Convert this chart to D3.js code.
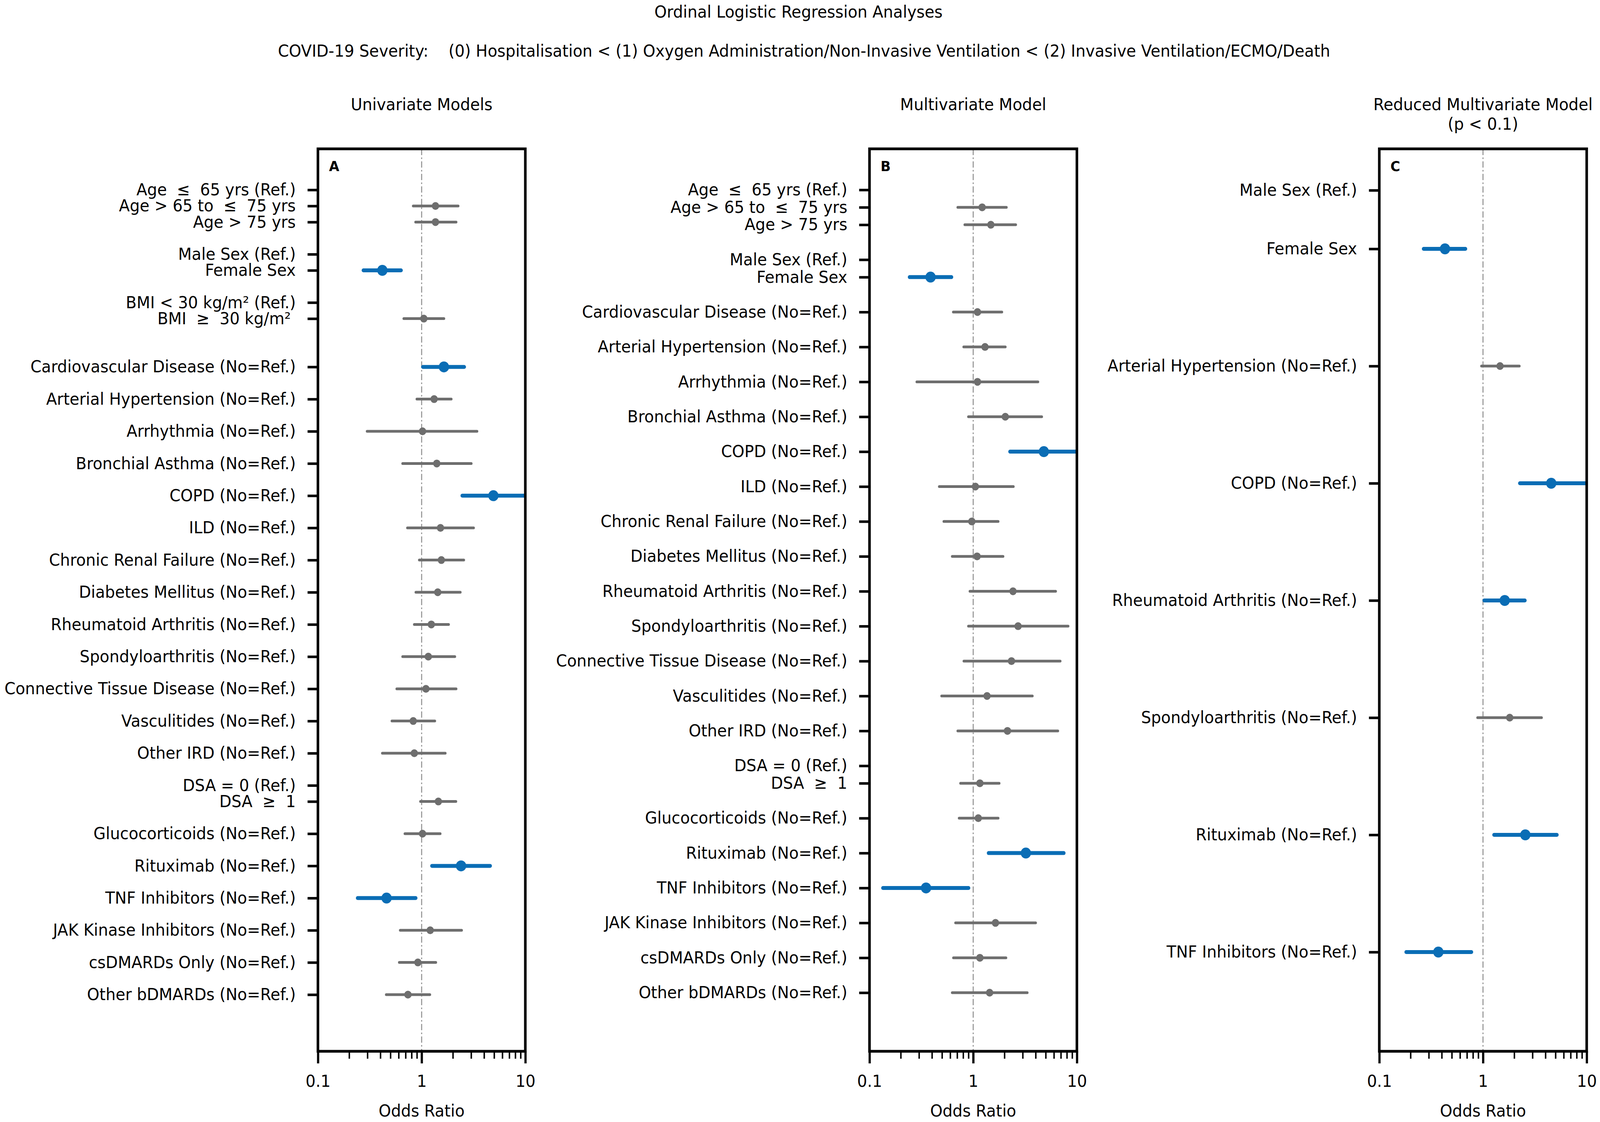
<!DOCTYPE html>
<html><head><meta charset="utf-8">
<script src="https://cdn.jsdelivr.net/npm/d3@7"></script>
<style>
html,body{margin:0;padding:0;background:#fff;overflow:hidden}
#chart{display:block;width:100vw;height:100vh}
svg text{font-family:"DejaVu Sans",sans-serif;fill:#000;white-space:pre}
</style>
</head><body>
<svg id="chart" viewBox="0 0 4328 2872" preserveAspectRatio="none" xml:space="preserve"></svg>
<script>
// ---------- Data ----------
const mainTitle = "Ordinal Logistic Regression Analyses";
const subTitle = "COVID-19 Severity:    (0) Hospitalisation < (1) Oxygen Administration/Non-Invasive Ventilation < (2) Invasive Ventilation/ECMO/Death";
const xAxisLabel = "Odds Ratio";
const xTicks = [0.1, 1, 10];
const xTickLabels = ["0.1", "1", "10"];
const xMinorTicks = [0.2,0.3,0.4,0.5,0.6,0.7,0.8,0.9,2,3,4,5,6,7,8,9];

// Panel A: Univariate models
const labelsA = ["Age  ≤  65 yrs (Ref.)","Age > 65 to  ≤  75 yrs","Age > 75 yrs","Male Sex (Ref.)","Female Sex","BMI < 30 kg/m² (Ref.)","BMI  ≥  30 kg/m² ",
  "Cardiovascular Disease (No=Ref.)","Arterial Hypertension (No=Ref.)","Arrhythmia (No=Ref.)","Bronchial Asthma (No=Ref.)","COPD (No=Ref.)","ILD (No=Ref.)",
  "Chronic Renal Failure (No=Ref.)","Diabetes Mellitus (No=Ref.)","Rheumatoid Arthritis (No=Ref.)","Spondyloarthritis (No=Ref.)","Connective Tissue Disease (No=Ref.)",
  "Vasculitides (No=Ref.)","Other IRD (No=Ref.)","DSA = 0 (Ref.)","DSA  ≥  1","Glucocorticoids (No=Ref.)","Rituximab (No=Ref.)","TNF Inhibitors (No=Ref.)",
  "JAK Kinase Inhibitors (No=Ref.)","csDMARDs Only (No=Ref.)","Other bDMARDs (No=Ref.)"];
const rowsA = [0,1,2,4,5,7,8,11,13,15,17,19,21,23,25,27,29,31,33,35,37,38,40,42,44,46,48,50];
const orA = [null,1.36,1.36,null,0.418,null,1.05,1.64,1.32,1.02,1.40,4.92,1.52,1.55,1.43,1.24,1.16,1.10,0.83,0.85,null,1.45,1.02,2.40,0.459,1.21,0.92,0.738];
const loA = [null,0.83,0.875,null,0.275,null,0.673,1.03,0.90,0.298,0.656,2.47,0.73,0.95,0.88,0.85,0.656,0.576,0.517,0.418,null,0.975,0.69,1.26,0.242,0.622,0.609,0.456];
const hiA = [null,2.25,2.15,null,0.632,null,1.64,2.57,1.93,3.42,3.01,12.0,3.17,2.55,2.36,1.82,2.09,2.15,1.34,1.69,null,2.14,1.51,4.57,0.875,2.43,1.37,1.20];
const sigA = [0,0,0,0,1,0,0,1,0,0,0,1,0,0,0,0,0,0,0,0,0,0,0,1,1,0,0,0];

// Panel B: Multivariate model
const labelsB = ["Age  ≤  65 yrs (Ref.)","Age > 65 to  ≤  75 yrs","Age > 75 yrs","Male Sex (Ref.)","Female Sex",
  "Cardiovascular Disease (No=Ref.)","Arterial Hypertension (No=Ref.)","Arrhythmia (No=Ref.)","Bronchial Asthma (No=Ref.)","COPD (No=Ref.)","ILD (No=Ref.)",
  "Chronic Renal Failure (No=Ref.)","Diabetes Mellitus (No=Ref.)","Rheumatoid Arthritis (No=Ref.)","Spondyloarthritis (No=Ref.)","Connective Tissue Disease (No=Ref.)",
  "Vasculitides (No=Ref.)","Other IRD (No=Ref.)","DSA = 0 (Ref.)","DSA  ≥  1","Glucocorticoids (No=Ref.)","Rituximab (No=Ref.)","TNF Inhibitors (No=Ref.)",
  "JAK Kinase Inhibitors (No=Ref.)","csDMARDs Only (No=Ref.)","Other bDMARDs (No=Ref.)"];
const rowsB = [0,1,2,4,5,7,9,11,13,15,17,19,21,23,25,27,29,31,33,34,36,38,40,42,44,46];
const orB = [null,1.22,1.48,null,0.388,1.10,1.30,1.10,2.04,4.80,1.05,0.97,1.09,2.42,2.71,2.34,1.36,2.14,null,1.16,1.12,3.22,0.351,1.64,1.16,1.44];
const loB = [null,0.71,0.83,null,0.244,0.643,0.81,0.286,0.90,2.27,0.471,0.521,0.628,0.93,0.90,0.813,0.496,0.71,null,0.755,0.732,1.41,0.135,0.676,0.645,0.628];
const hiB = [null,2.09,2.57,null,0.616,1.89,2.04,4.21,4.58,12.0,2.44,1.74,1.94,6.24,8.23,6.90,3.72,6.55,null,1.78,1.74,7.46,0.90,4.00,2.07,3.32];
const sigB = [0,0,0,0,1,0,0,0,0,1,0,0,0,0,0,0,0,0,0,0,0,1,1,0,0,0];

// Panel C: Reduced multivariate model (p < 0.1)
const labelsC = ["Male Sex (Ref.)","Female Sex","Arterial Hypertension (No=Ref.)","COPD (No=Ref.)","Rheumatoid Arthritis (No=Ref.)","Spondyloarthritis (No=Ref.)","Rituximab (No=Ref.)","TNF Inhibitors (No=Ref.)"];
const rowsC = [0,1,3,5,7,9,11,13];
const orC = [null,0.43,1.46,4.55,1.62,1.81,2.56,0.371];
const loC = [null,0.268,0.967,2.27,1.03,0.887,1.28,0.182];
const hiC = [null,0.676,2.24,9.7,2.53,3.67,5.15,0.772];
const sigC = [0,1,0,1,1,0,1,1];

const panelTitles = [["Univariate Models"],["Multivariate Model"],["Reduced Multivariate Model","(p < 0.1)"]];
const panelLetters = ["A","B","C"];

// ---------- Layout ----------
const W = 4328, H = 2872;
const FS = 42.6;
const blue = "#0a6db5", gray = "#6e6e6e";
const boxTop = 381, boxBottom = 2691, boxW = 561;
const panels = [
  {left: 860,  labels: labelsA, rows: rowsA, or: orA, lo: loA, hi: hiA, sig: sigA, yFirst: 486, yLast: 2546},
  {left: 2352, labels: labelsB, rows: rowsB, or: orB, lo: loB, hi: hiB, sig: sigB, yFirst: 486, yLast: 2541},
  {left: 3731, labels: labelsC, rows: rowsC, or: orC, lo: loC, hi: hiC, sig: sigC, yFirst: 487, yLast: 2437}
];

const svg = d3.select("#chart");
svg.append("rect").attr("width", W).attr("height", H).attr("fill", "#fff");

svg.append("text").attr("x", 2160).attr("y", 45).attr("text-anchor", "middle")
  .attr("font-size", FS).text(mainTitle);
svg.append("text").attr("x", 2175).attr("y", 145).attr("text-anchor", "middle")
  .attr("font-size", FS).text(subTitle);

panels.forEach((p, pi) => {
  const g = svg.append("g");
  const x = d3.scaleLog().domain([0.1, 10]).range([p.left, p.left + boxW]);
  const y = d3.scaleLinear().domain([0, d3.max(p.rows)]).range([p.yFirst, p.yLast]);
  const cx = p.left + boxW / 2;

  // panel title
  panelTitles[pi].forEach((t, k) => {
    g.append("text").attr("x", cx).attr("y", 282 + k * 50).attr("text-anchor", "middle")
      .attr("font-size", FS).text(t);
  });

  // clip
  const clipId = "clip" + pi;
  svg.append("clipPath").attr("id", clipId).append("rect")
    .attr("x", p.left).attr("y", boxTop).attr("width", boxW).attr("height", boxBottom - boxTop);

  // reference line at OR = 1
  g.append("line").attr("x1", x(1)).attr("x2", x(1)).attr("y1", boxTop).attr("y2", boxBottom)
    .attr("stroke", "#9a9a9a").attr("stroke-width", 3).attr("stroke-dasharray", "16,6,4,6");

  // data
  const data = p.labels.map((l, i) => ({row: p.rows[i], or: p.or[i], lo: p.lo[i], hi: p.hi[i], sig: p.sig[i]}))
    .filter(d => d.or !== null);
  const dg = g.append("g").attr("clip-path", `url(#${clipId})`);
  dg.selectAll("line.ci").data(data).join("line").attr("class", "ci")
    .attr("x1", d => x(d.lo)).attr("x2", d => x(d.hi))
    .attr("y1", d => y(d.row)).attr("y2", d => y(d.row))
    .attr("stroke", d => d.sig ? blue : gray)
    .attr("stroke-width", d => d.sig ? 10 : 7)
    .attr("stroke-linecap", "round");
  dg.selectAll("circle.pt").data(data).join("circle").attr("class", "pt")
    .attr("cx", d => x(d.or)).attr("cy", d => y(d.row))
    .attr("r", d => d.sig ? 14 : 10)
    .attr("fill", d => d.sig ? blue : gray);

  // left axis (category labels)
  const yAxis = d3.axisLeft(y).tickValues(p.rows).tickFormat((d, i) => p.labels[i])
    .tickSize(28).tickPadding(32);
  const ya = g.append("g").attr("transform", `translate(${p.left},0)`).call(yAxis);
  ya.select(".domain").remove();
  ya.selectAll(".tick line").attr("stroke", "#000").attr("stroke-width", 6.5);
  ya.selectAll(".tick text").attr("font-size", FS).attr("font-family", "DejaVu Sans").attr("fill", "#000");

  // bottom axis: minor ticks
  const xMinor = d3.axisBottom(x).tickValues(xMinorTicks).tickFormat("").tickSize(19);
  const xm = g.append("g").attr("transform", `translate(0,${boxBottom})`).call(xMinor);
  xm.select(".domain").remove();
  xm.selectAll(".tick line").attr("stroke", "#000").attr("stroke-width", 4);

  // bottom axis: major ticks
  const xAxis = d3.axisBottom(x).tickValues(xTicks).tickFormat((d, i) => xTickLabels[i])
    .tickSize(31).tickPadding(30);
  const xa = g.append("g").attr("transform", `translate(0,${boxBottom})`).call(xAxis);
  xa.select(".domain").remove();
  xa.selectAll(".tick line").attr("stroke", "#000").attr("stroke-width", 6);
  xa.selectAll(".tick text").attr("font-size", FS).attr("font-family", "DejaVu Sans").attr("fill", "#000");

  g.append("text").attr("x", cx).attr("y", 2858).attr("text-anchor", "middle")
    .attr("font-size", FS).text(xAxisLabel);

  // frame
  g.append("rect").attr("x", p.left).attr("y", boxTop).attr("width", boxW).attr("height", boxBottom - boxTop)
    .attr("fill", "none").attr("stroke", "#000").attr("stroke-width", 7);

  // panel letter
  g.append("text").attr("x", p.left + 30).attr("y", boxTop + 57)
    .attr("font-size", 36).attr("font-weight", "bold").text(panelLetters[pi]);
});
</script>
</body></html>
